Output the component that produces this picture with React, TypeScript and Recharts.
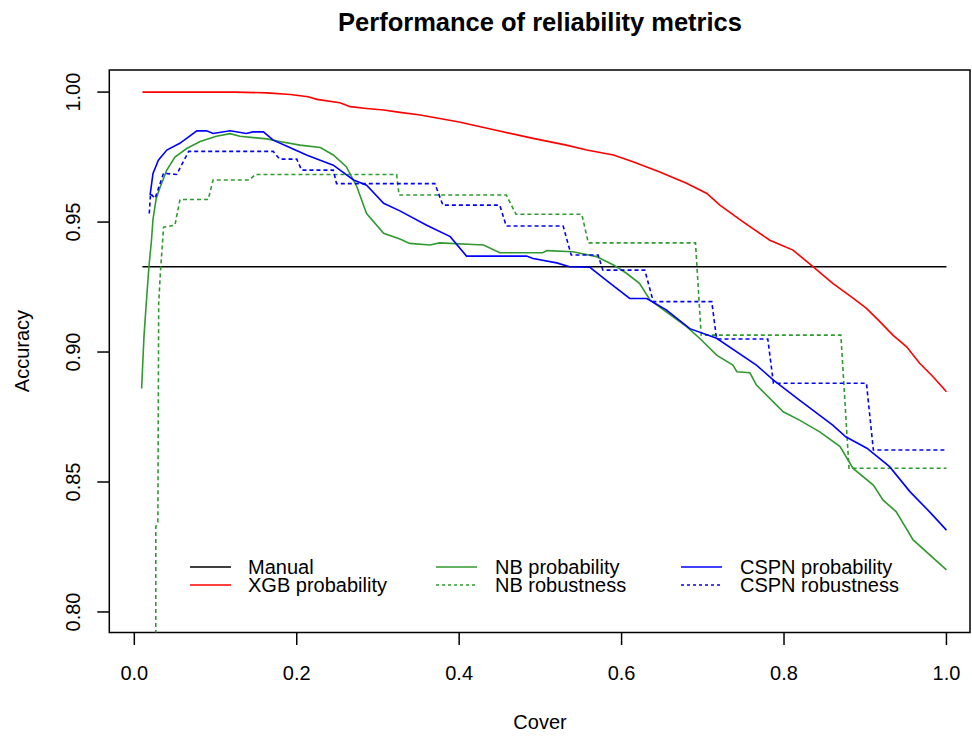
import React from "react";
import { LineChart, Line, XAxis, YAxis, ReferenceArea } from "recharts";

// values
const manualCover = [0.01, 1.0];
const manualAcc = [0.9328, 0.9328];

const xgbCover = [
  0.01, 0.124, 0.163, 0.192, 0.214, 0.225, 0.253, 0.266, 0.286, 0.307, 0.327, 0.352,
  0.4, 0.444, 0.491, 0.532, 0.557, 0.59, 0.614, 0.647, 0.68, 0.705, 0.721, 0.75,
  0.7825, 0.811, 0.836, 0.86, 0.885, 0.9015, 0.918, 0.934, 0.951, 0.967, 0.9835, 1.0,
];
const xgbAcc = [
  1.0, 1.0, 0.9997, 0.9991, 0.9982, 0.9972, 0.9959, 0.9944, 0.9937, 0.9931, 0.9922, 0.9912,
  0.9885, 0.9854, 0.9822, 0.9796, 0.9777, 0.9758, 0.9732, 0.9693, 0.9649, 0.961, 0.9565, 0.95,
  0.943, 0.9392, 0.9328, 0.9264, 0.9207, 0.9168, 0.9117, 0.9065, 0.902, 0.8957, 0.8905, 0.8847,
];

const nbProbCover = [
  0.009, 0.01, 0.012, 0.015, 0.018, 0.021, 0.023, 0.027, 0.032, 0.04, 0.05, 0.0645,
  0.081, 0.101, 0.118, 0.13, 0.163, 0.179, 0.204, 0.229, 0.245, 0.261, 0.274, 0.286,
  0.307, 0.327, 0.339, 0.364, 0.376, 0.43, 0.45, 0.503, 0.508, 0.54, 0.569, 0.59,
  0.606, 0.622, 0.635, 0.655, 0.68, 0.696, 0.717, 0.737, 0.742, 0.758, 0.766, 0.799,
  0.819, 0.844, 0.869, 0.885, 0.91, 0.922, 0.938, 0.959, 1.0,
];
const nbProbAcc = [
  0.886, 0.893, 0.9065, 0.92, 0.9328, 0.9425, 0.951, 0.9592, 0.9636, 0.97, 0.975, 0.9783,
  0.981, 0.983, 0.984, 0.983, 0.982, 0.981, 0.9796, 0.9787, 0.9758, 0.9713, 0.9636, 0.9533,
  0.9457, 0.9435, 0.9418, 0.9412, 0.942, 0.9412, 0.9382, 0.9382, 0.939, 0.9386, 0.9367, 0.9335,
  0.9303, 0.9264, 0.92, 0.9155, 0.9098, 0.9053, 0.8988, 0.895, 0.8924, 0.892, 0.8873, 0.877,
  0.8738, 0.8693, 0.8636, 0.8552, 0.8488, 0.843, 0.8386, 0.8277, 0.8162,
];

const nbRobCover = [
  0.0263, 0.0265, 0.029, 0.03, 0.032, 0.036, 0.05, 0.0563, 0.091, 0.097, 0.142, 0.1486,
  0.323, 0.326, 0.458, 0.47, 0.551, 0.559, 0.691, 0.698, 0.87, 0.88, 1.0,
];
const nbRobAcc = [
  0.7, 0.8328, 0.8345, 0.9187, 0.93, 0.948, 0.9488, 0.9587, 0.9587, 0.9662, 0.9662, 0.9683,
  0.9683, 0.9604, 0.9604, 0.953, 0.953, 0.942, 0.942, 0.9065, 0.9065, 0.8553, 0.8553,
];

const cspnProbCover = [
  0.0194, 0.023, 0.0296, 0.04, 0.056, 0.077, 0.089, 0.097, 0.118, 0.138, 0.146, 0.159,
  0.171, 0.188, 0.212, 0.245, 0.27, 0.286, 0.307, 0.327, 0.36, 0.389, 0.409, 0.483,
  0.491, 0.52, 0.536, 0.561, 0.586, 0.61, 0.631, 0.655, 0.684, 0.717, 0.766, 0.787,
  0.819, 0.86, 0.876, 0.902, 0.93, 0.955, 0.979, 1.0,
];
const cspnProbAcc = [
  0.9604, 0.9687, 0.9738, 0.9777, 0.9803, 0.9851, 0.9851, 0.9841, 0.9851, 0.9841, 0.9847, 0.9847,
  0.9815, 0.9792, 0.9758, 0.9719, 0.9662, 0.9642, 0.9572, 0.9543, 0.9488, 0.9444, 0.9369, 0.9369,
  0.936, 0.9343, 0.9328, 0.9326, 0.9264, 0.9206, 0.9206, 0.9162, 0.909, 0.9053, 0.895, 0.8892,
  0.8815, 0.8719, 0.8674, 0.863, 0.8559, 0.8463, 0.8386, 0.8315,
];

const cspnRobCover = [
  0.0184, 0.02, 0.0255, 0.036, 0.052, 0.067, 0.171, 0.179, 0.2, 0.206, 0.245, 0.249,
  0.37, 0.38, 0.45, 0.458, 0.528, 0.538, 0.571, 0.577, 0.6286, 0.639, 0.711, 0.717,
  0.78, 0.787, 0.9015, 0.91, 1.0,
];
const cspnRobAcc = [
  0.9533, 0.961, 0.9591, 0.9688, 0.9683, 0.9772, 0.9772, 0.9742, 0.9742, 0.97, 0.97, 0.9648,
  0.9648, 0.9565, 0.9565, 0.9485, 0.9485, 0.9373, 0.9373, 0.9315, 0.9315, 0.9194, 0.9194, 0.905,
  0.905, 0.888, 0.888, 0.8623, 0.8623,
];

const xTicks = [0, 0.2, 0.4, 0.6, 0.8, 1.0];
const yTicks = [0.8, 0.85, 0.9, 0.95, 1.0];

const X_DOMAIN: [number, number] = [-0.0308, 1.029];
const Y_DOMAIN: [number, number] = [0.7921, 1.0085];

const toPoints = (xs: number[], ys: number[]) => xs.map((x, i) => ({ x, y: ys[i] }));

const GREEN = "#2f9a2f";
const FONT = "'Liberation Sans', Arial, sans-serif";

const series = [
  { name: "Manual", data: toPoints(manualCover, manualAcc), color: "#000000", dash: undefined },
  { name: "XGB probability", data: toPoints(xgbCover, xgbAcc), color: "#ff0000", dash: undefined },
  { name: "NB probability", data: toPoints(nbProbCover, nbProbAcc), color: GREEN, dash: undefined },
  { name: "NB robustness", data: toPoints(nbRobCover, nbRobAcc), color: GREEN, dash: "4 3" },
  { name: "CSPN probability", data: toPoints(cspnProbCover, cspnProbAcc), color: "#0000ff", dash: undefined },
  { name: "CSPN robustness", data: toPoints(cspnRobCover, cspnRobAcc), color: "#0000ff", dash: "4 3" },
];

// legend is laid out in 3 columns x 2 rows, like R's legend(ncol=3)
const legendCols = [
  { lineX: 190, textX: 248 },
  { lineX: 436, textX: 495 },
  { lineX: 681, textX: 740 },
];
const legendRows = [567, 585];

const XTick = (props: any) => (
  <text x={props.x} y={680} textAnchor="middle" fontSize={20} fontFamily={FONT} fill="#000">
    {props.payload.value.toFixed(1)}
  </text>
);

const YTick = (props: any) => (
  <text
    x={80}
    y={props.y}
    transform={`rotate(-90, 80, ${props.y})`}
    textAnchor="middle"
    fontSize={20}
    fontFamily={FONT}
    fill="#000"
  >
    {props.payload.value.toFixed(2)}
  </text>
);

export default function App() {
  return (
    <div style={{ position: "absolute", left: 0, top: 0, width: 972, height: 736, background: "#fff" }}>
      <LineChart width={972} height={736} margin={{ top: 70, right: 2, left: 49.3, bottom: 43.5 }}>
        <XAxis
          type="number"
          dataKey="x"
          domain={X_DOMAIN}
          allowDataOverflow
          ticks={xTicks}
          tick={<XTick />}
          tickSize={12.5}
          tickLine={{ stroke: "#000", strokeWidth: 1.5 }}
          axisLine={false}
          height={60}
        />
        <YAxis
          type="number"
          dataKey="y"
          domain={Y_DOMAIN}
          allowDataOverflow
          ticks={yTicks}
          tick={<YTick />}
          tickSize={12}
          tickLine={{ stroke: "#000", strokeWidth: 1.5 }}
          axisLine={false}
          width={60}
        />
        <ReferenceArea
          x1={X_DOMAIN[0]}
          x2={X_DOMAIN[1]}
          y1={Y_DOMAIN[0]}
          y2={Y_DOMAIN[1]}
          fill="none"
          fillOpacity={0}
          stroke="#000"
          strokeWidth={1.5}
          ifOverflow="visible"
        />
        {series.map((s) => (
          <Line
            key={s.name}
            data={s.data}
            dataKey="y"
            type="linear"
            stroke={s.color}
            strokeWidth={1.6}
            strokeDasharray={s.dash}
            dot={false}
            activeDot={false}
            isAnimationActive={false}
          />
        ))}
      </LineChart>

      <svg
        width={972}
        height={736}
        style={{ position: "absolute", left: 0, top: 0, pointerEvents: "none" }}
        fontFamily={FONT}
      >
        <text x={540} y={31} textAnchor="middle" fontSize={25.5} fontWeight="bold" fill="#000">
          Performance of reliability metrics
        </text>
        <text x={540} y={729} textAnchor="middle" fontSize={20} fill="#000">
          Cover
        </text>
        <text x={29} y={351} transform="rotate(-90, 29, 351)" textAnchor="middle" fontSize={20} fill="#000">
          Accuracy
        </text>
        {series.map((s, i) => {
          const col = legendCols[Math.floor(i / 2)];
          const y = legendRows[i % 2];
          return (
            <g key={s.name}>
              <line
                x1={col.lineX}
                x2={col.lineX + 41}
                y1={y}
                y2={y}
                stroke={s.color}
                strokeWidth={1.6}
                strokeDasharray={s.dash ? "3 3" : undefined}
              />
              <text x={col.textX} y={y + 7} fontSize={20} fill="#000">
                {s.name}
              </text>
            </g>
          );
        })}
      </svg>
    </div>
  );
}
